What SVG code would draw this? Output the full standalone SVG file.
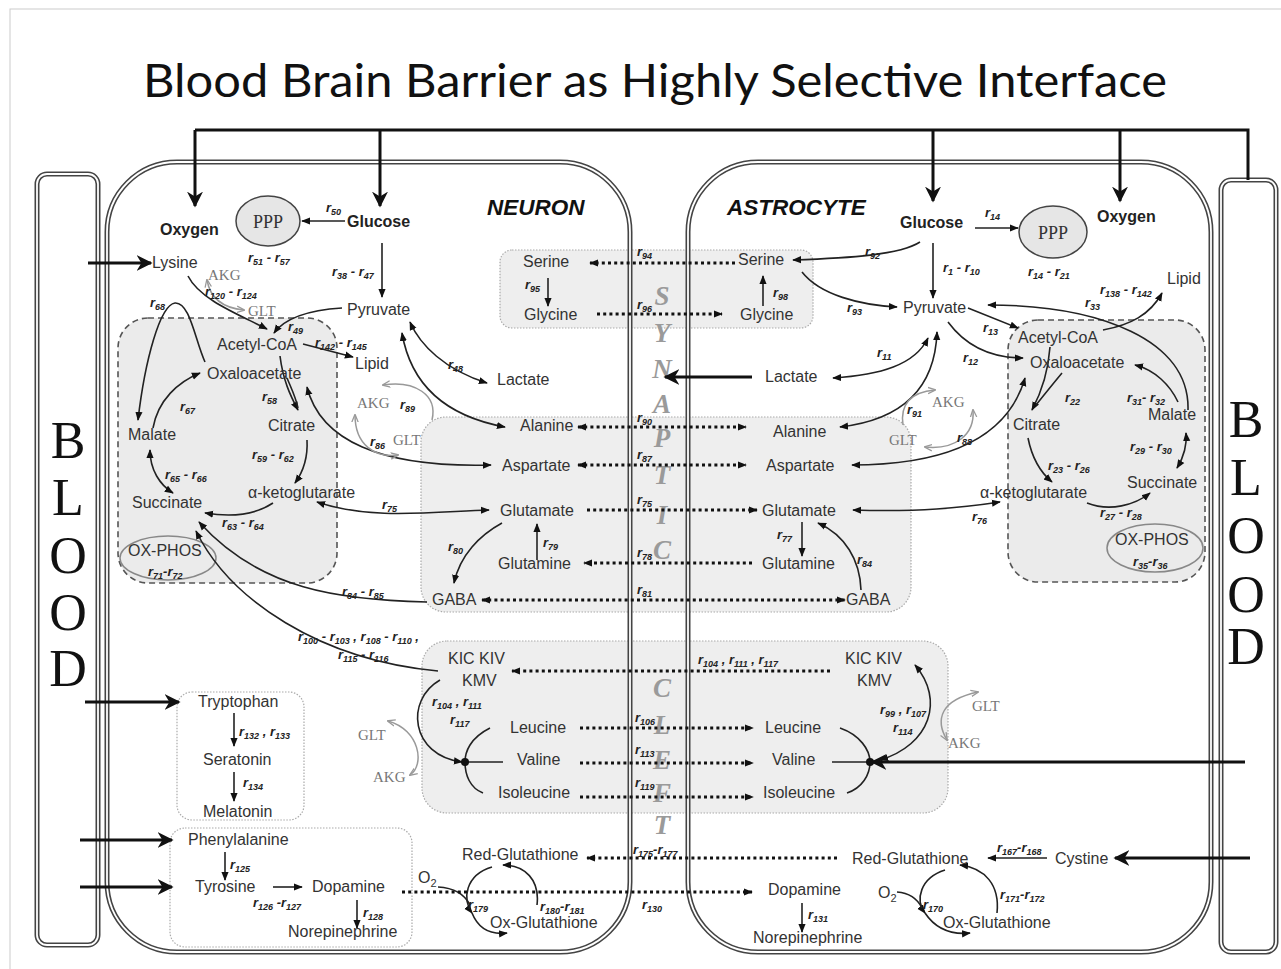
<svg xmlns="http://www.w3.org/2000/svg" width="1281" height="969" viewBox="0 0 1281 969">
<style>
.t{font-family:"Liberation Sans",Arial,sans-serif;font-size:16px;fill:#333}
.tb{font-family:"Liberation Sans",Arial,sans-serif;font-size:16px;font-weight:bold;fill:#222}
.g{font-family:"Liberation Serif","Times New Roman",serif;font-size:15px;fill:#777}
.r{font-family:"Liberation Sans",Arial,sans-serif;font-size:13px;font-weight:bold;font-style:italic;fill:#222}
.s{font-size:9px}
.sy{font-family:"Liberation Serif",serif;font-size:27px;font-weight:bold;font-style:italic;fill:#9a9a9a;text-anchor:middle}
.bl{font-family:"Liberation Serif",serif;font-size:52px;fill:#111;text-anchor:middle}
.cell{fill:none;stroke:#444;stroke-width:5}
.cellin{fill:none;stroke:#fff;stroke-width:1.8}
.c{fill:none;stroke:#222;stroke-width:1.6}
.cg{fill:none;stroke:#999;stroke-width:1.5}
.k{fill:none;stroke:#111;stroke-width:3}
.d{fill:none;stroke:#111;stroke-width:3.2;stroke-dasharray:3 3.2}
.box{fill:#eeeeee;stroke:#aaa;stroke-width:1.2;stroke-dasharray:1.5 1.5}
.tca{fill:#ebebeb;stroke:#555;stroke-width:1.6;stroke-dasharray:6 4}
</style>
<defs>
<marker id="a" viewBox="0 0 10 10" refX="9" refY="5" markerWidth="9" markerHeight="9" markerUnits="userSpaceOnUse" orient="auto-start-reverse"><path d="M0,1 L10,5 L0,9 z" fill="#111"/></marker>
<marker id="ab" viewBox="0 0 10 10" refX="9" refY="5" markerWidth="16" markerHeight="16" markerUnits="userSpaceOnUse" orient="auto-start-reverse"><path d="M0,0 L10,5 L0,10 L3,5 z" fill="#111"/></marker>
<marker id="ag" viewBox="0 0 10 10" refX="9" refY="5" markerWidth="8" markerHeight="8" markerUnits="userSpaceOnUse" orient="auto-start-reverse"><path d="M0,1 L10,5 L0,9" fill="none" stroke="#999" stroke-width="1.6"/></marker>
</defs>
<rect x="0" y="0" width="1281" height="969" fill="#fff"/>
<rect x="10" y="9" width="1300" height="1000" fill="none" stroke="#ccc" stroke-width="1"/>
<text x="143" y="97" font-family="Lato,'Open Sans',sans-serif" font-size="46" textLength="1024" lengthAdjust="spacingAndGlyphs" fill="#111">Blood Brain Barrier as Highly Selective Interface</text>

<g id="boxes">
<rect class="tca" x="118" y="318" width="219" height="265" rx="30"/>
<rect class="tca" x="1008" y="320" width="197" height="262" rx="30"/>
<rect class="box" x="500" y="250" width="313" height="78" rx="12"/>
<rect class="box" x="421" y="417" width="490" height="195" rx="25"/>
<rect class="box" x="422" y="641" width="526" height="172" rx="25"/>
<rect class="box" x="177" y="692" width="127" height="128" rx="15" style="fill:#fff"/>
<rect class="box" x="170" y="828" width="242" height="119" rx="15" style="fill:#fff"/>
<ellipse cx="268" cy="221" rx="32" ry="25" fill="#e6e6e6" stroke="#444" stroke-width="1.5"/>
<ellipse cx="1053" cy="232" rx="34" ry="26" fill="#e6e6e6" stroke="#444" stroke-width="1.5"/>
<ellipse cx="168" cy="558" rx="48" ry="22" fill="none" stroke="#888" stroke-width="1.5"/>
<ellipse cx="1155" cy="548" rx="48" ry="24" fill="none" stroke="#888" stroke-width="1.5"/>
</g>

<g id="blood-left">
<rect class="cell" x="37" y="174" width="61" height="771" rx="10"/>
<rect class="cellin" x="37" y="174" width="61" height="771" rx="10"/>
<text class="bl" x="68" y="458">B</text><text class="bl" x="68" y="515">L</text><text class="bl" x="68" y="573">O</text><text class="bl" x="68" y="630">O</text><text class="bl" x="68" y="686">D</text>
</g>
<g id="blood-right">
<rect class="cell" x="1221" y="180" width="55" height="772" rx="10"/>
<rect class="cellin" x="1221" y="180" width="55" height="772" rx="10"/>
<text class="bl" x="1246" y="437">B</text><text class="bl" x="1246" y="495">L</text><text class="bl" x="1246" y="553">O</text><text class="bl" x="1246" y="612">O</text><text class="bl" x="1246" y="664">D</text>
</g>
<g id="neuron">
<rect class="cell" x="107" y="162" width="523" height="790" rx="70"/>
<rect class="cellin" x="107" y="162" width="523" height="790" rx="70"/>
<text x="487" y="215" font-family="'Liberation Sans',sans-serif" font-size="22.5" font-weight="bold" font-style="italic" fill="#111">NEURON</text>
</g>
<g id="astrocyte">
<rect class="cell" x="688" y="162" width="523" height="790" rx="70"/>
<rect class="cellin" x="688" y="162" width="523" height="790" rx="70"/>
<text x="727" y="215" font-family="'Liberation Sans',sans-serif" font-size="22.5" font-weight="bold" font-style="italic" fill="#111">ASTROCYTE</text>
</g>
<g id="cleft">
<text class="sy" x="662" y="305">S</text><text class="sy" x="662" y="342">Y</text><text class="sy" x="662" y="378">N</text><text class="sy" x="662" y="413">A</text><text class="sy" x="662" y="447">P</text><text class="sy" x="662" y="484">T</text><text class="sy" x="662" y="524">I</text><text class="sy" x="662" y="559">C</text><text class="sy" x="662" y="697">C</text><text class="sy" x="662" y="734">L</text><text class="sy" x="662" y="769">E</text><text class="sy" x="662" y="802">F</text><text class="sy" x="662" y="834">T</text>
</g>

<g id="connectors">
<path class="k" d="M195,130 H1248 V180"/>
<path class="k" d="M195,130 V206" marker-end="url(#ab)"/>
<path class="k" d="M380,130 V206" marker-end="url(#ab)"/>
<path class="k" d="M933,130 V201" marker-end="url(#ab)"/>
<path class="k" d="M1120,130 V201" marker-end="url(#ab)"/>
<path class="k" d="M88,263 H151" marker-end="url(#ab)"/>
<path class="k" d="M85,702 H179" marker-end="url(#ab)"/>
<path class="k" d="M80,840 H172" marker-end="url(#ab)"/>
<path class="k" d="M80,887 H172" marker-end="url(#ab)"/>
<path class="k" d="M1245,762 H872" marker-end="url(#ab)"/>
<path class="k" d="M1250,858 H1115" marker-end="url(#ab)"/>
<path class="k" d="M752,377 H665" marker-end="url(#ab)"/>

<path class="c" d="M345,221 H302" marker-end="url(#a)"/>
<path class="c" d="M382,243 V297" marker-end="url(#a)"/>
<path class="c" d="M342,308 C310,310 285,318 274,333" marker-end="url(#a)"/>
<path class="c" d="M188,276 C200,300 240,315 267,329" marker-end="url(#a)"/>
<path class="cg" d="M244,310 C222,308 210,297 207,280" marker-start="url(#ag)" marker-end="url(#ag)"/>
<path class="c" d="M303,344 L353,357" marker-end="url(#a)"/>
<path class="c" d="M280,356 C283,380 290,395 298,410" marker-end="url(#a)"/>
<path class="c" d="M287,378 C292,390 296,398 298,408"/>
<path class="c" d="M307,440 C308,458 303,472 295,483" marker-end="url(#a)"/>
<path class="c" d="M273,503 C255,515 230,517 205,513" marker-end="url(#a)"/>
<path class="c" d="M150,450 C150,470 160,485 173,493" marker-start="url(#a)" marker-end="url(#a)"/>
<path class="c" d="M153,428 C158,400 178,382 200,373" marker-end="url(#a)"/>
<path class="c" d="M205,362 C195,340 190,302 175,303 C160,305 145,360 138,420" marker-end="url(#a)"/>
<path class="c" d="M307,387 C320,440 380,468 491,465" marker-start="url(#a)" marker-end="url(#a)"/>
<path class="c" d="M317,502 C370,520 430,512 489,510" marker-start="url(#a)" marker-end="url(#a)"/>
<path class="c" d="M410,322 C420,345 445,370 487,383" marker-start="url(#a)" marker-end="url(#a)"/>
<path class="c" d="M402,333 C410,380 440,415 505,427" marker-start="url(#a)" marker-end="url(#a)"/>
<path class="c" d="M427,602 C340,600 260,590 199,522" marker-end="url(#a)"/>
<path class="c" d="M438,671 C320,660 230,600 196,531" marker-end="url(#a)"/>
<path class="c" d="M502,523 C480,535 460,555 454,583" marker-end="url(#a)"/>
<path class="c" d="M537,560 V524" marker-end="url(#a)"/>
<path class="c" d="M548,278 V306" marker-end="url(#a)"/>
<path class="c" d="M440,680 C405,700 410,755 462,762" marker-end="url(#a)"/>
<path class="c" d="M490,728 C470,738 465,752 465,762 C465,775 470,788 483,793 M465,762 H503"/>
<circle cx="465" cy="762" r="4" fill="#111"/>
<path class="cg" d="M388,721 C420,730 425,765 410,775" marker-start="url(#ag)" marker-end="url(#ag)"/>
<path class="cg" d="M432,420 C438,395 415,380 383,385" marker-end="url(#ag)"/>
<path class="cg" d="M355,415 C355,445 375,458 398,455" marker-start="url(#ag)" marker-end="url(#ag)"/>
<path class="c" d="M234,713 V746" marker-end="url(#a)"/>
<path class="c" d="M234,772 V801" marker-end="url(#a)"/>
<path class="c" d="M225,852 V880" marker-end="url(#a)"/>
<path class="c" d="M273,887 H302" marker-end="url(#a)"/>
<path class="c" d="M357,900 V928" marker-end="url(#a)"/>
<path class="c" d="M492,867 C465,875 462,900 472,913" marker-end="url(#a)"/>
<path class="c" d="M472,913 C478,928 490,935 507,933" marker-end="url(#a)"/>
<path class="c" d="M438,887 C455,888 465,895 470,905"/>
<path class="c" d="M537,905 C540,880 525,865 503,865" marker-end="url(#a)"/>

<path class="c" d="M975,228 H1018" marker-end="url(#a)"/>
<path class="c" d="M933,243 V298" marker-end="url(#a)"/>
<path class="c" d="M920,242 C900,255 850,258 793,260" marker-end="url(#a)"/>
<path class="c" d="M802,272 C820,295 860,305 897,307" marker-end="url(#a)"/>
<path class="c" d="M763,306 V276" marker-end="url(#a)"/>
<path class="c" d="M833,378 C880,375 915,365 928,338" marker-start="url(#a)" marker-end="url(#a)"/>
<path class="c" d="M840,427 C900,420 935,390 937,332" marker-start="url(#a)" marker-end="url(#a)"/>
<path class="c" d="M948,322 C965,345 990,358 1023,358" marker-end="url(#a)"/>
<path class="c" d="M968,308 L1018,328" marker-end="url(#a)"/>
<path class="c" d="M1103,330 C1130,325 1150,315 1162,293" marker-end="url(#a)"/>
<path class="c" d="M1188,410 C1190,340 1100,305 988,305" marker-end="url(#a)"/>
<path class="c" d="M1178,402 C1170,385 1155,370 1135,365" marker-end="url(#a)"/>
<path class="c" d="M1050,347 C1048,375 1040,395 1032,410" marker-end="url(#a)"/>
<path class="c" d="M1062,373 C1052,385 1044,395 1036,405"/>
<path class="c" d="M852,465 C960,465 1010,430 1025,378" marker-start="url(#a)" marker-end="url(#a)"/>
<path class="c" d="M853,510 C920,512 960,508 1000,502" marker-start="url(#a)" marker-end="url(#a)"/>
<path class="c" d="M1028,438 C1032,458 1040,472 1052,482" marker-end="url(#a)"/>
<path class="c" d="M1087,503 C1110,512 1135,505 1150,493" marker-end="url(#a)"/>
<path class="c" d="M1177,468 C1185,455 1187,445 1186,433" marker-start="url(#a)" marker-end="url(#a)"/>
<path class="c" d="M802,522 V556" marker-end="url(#a)"/>
<path class="c" d="M861,590 C860,560 845,535 818,523" marker-end="url(#a)"/>
<path class="cg" d="M903,425 C900,405 910,392 935,390" marker-end="url(#ag)"/>
<path class="cg" d="M925,447 C955,450 975,435 973,410" marker-start="url(#ag)" marker-end="url(#ag)"/>
<path class="c" d="M840,728 C860,735 870,750 870,762 C870,775 862,788 847,793 M832,762 H870"/>
<circle cx="870" cy="762" r="4" fill="#111"/>
<path class="c" d="M880,760 C930,745 945,700 915,665" marker-start="url(#a)" marker-end="url(#a)"/>
<path class="cg" d="M947,740 C935,720 940,700 978,692" marker-start="url(#ag)" marker-end="url(#ag)"/>
<path class="c" d="M1047,858 H988" marker-end="url(#a)"/>
<path class="c" d="M945,870 C920,878 915,900 925,913" marker-end="url(#a)"/>
<path class="c" d="M925,913 C935,928 950,935 970,933" marker-end="url(#a)"/>
<path class="c" d="M897,892 C910,893 918,900 922,908"/>
<path class="c" d="M997,913 C1000,885 985,868 960,865" marker-end="url(#a)"/>
<path class="c" d="M802,903 V932" marker-end="url(#a)"/>

<path class="d" d="M735,263 H590" marker-end="url(#a)"/>
<path class="d" d="M597,314 H722" marker-end="url(#a)"/>
<path class="d" d="M578,427 H746" marker-start="url(#a)" marker-end="url(#a)"/>
<path class="d" d="M578,465 H746" marker-start="url(#a)" marker-end="url(#a)"/>
<path class="d" d="M587,510 H757" marker-end="url(#a)"/>
<path class="d" d="M752,563 H584" marker-end="url(#a)"/>
<path class="d" d="M482,600 H845" marker-start="url(#a)" marker-end="url(#a)"/>
<path class="d" d="M830,671 H512" marker-end="url(#a)"/>
<path class="d" d="M580,728 H753" marker-end="url(#a)"/>
<path class="d" d="M580,763 H753" marker-end="url(#a)"/>
<path class="d" d="M580,797 H753" marker-end="url(#a)"/>
<path class="d" d="M837,858 H587" marker-end="url(#a)"/>
<path class="d" d="M402,892 H752" marker-end="url(#a)"/>
</g>

<g id="neuron-nodes">
<g id="n-oxygen"><text class="tb" x="160" y="235">Oxygen</text></g>
<g id="n-ppp"><text x="268" y="228" font-family="'Liberation Serif',serif" font-size="18" fill="#333" text-anchor="middle">PPP</text></g>
<g id="n-glucose"><text class="tb" x="347" y="227">Glucose</text></g>
<g id="n-lysine"><text class="t" x="152" y="268">Lysine</text></g>
<g id="n-pyruvate"><text class="t" x="347" y="315">Pyruvate</text></g>
<g id="n-acetylcoa"><text class="t" x="217" y="350">Acetyl-CoA</text></g>
<g id="n-lipid"><text class="t" x="355" y="369">Lipid</text></g>
<g id="n-oaa"><text class="t" x="207" y="379">Oxaloacetate</text></g>
<g id="n-lactate"><text class="t" x="497" y="385">Lactate</text></g>
<g id="n-citrate"><text class="t" x="268" y="431">Citrate</text></g>
<g id="n-malate"><text class="t" x="128" y="440">Malate</text></g>
<g id="n-akg"><text class="t" x="248" y="498">α-ketoglutarate</text></g>
<g id="n-succinate"><text class="t" x="132" y="508">Succinate</text></g>
<g id="n-oxphos"><text class="t" x="128" y="556">OX-PHOS</text></g>
<g id="n-serine"><text class="t" x="523" y="267">Serine</text></g>
<g id="n-glycine"><text class="t" x="524" y="320">Glycine</text></g>
<g id="n-alanine"><text class="t" x="520" y="431">Alanine</text></g>
<g id="n-aspartate"><text class="t" x="502" y="471">Aspartate</text></g>
<g id="n-glutamate"><text class="t" x="500" y="516">Glutamate</text></g>
<g id="n-glutamine"><text class="t" x="498" y="569">Glutamine</text></g>
<g id="n-gaba"><text class="t" x="432" y="605">GABA</text></g>
<g id="n-kic"><text class="t" x="448" y="664">KIC KIV</text><text class="t" x="462" y="686">KMV</text></g>
<g id="n-leucine"><text class="t" x="510" y="733">Leucine</text></g>
<g id="n-valine"><text class="t" x="517" y="765">Valine</text></g>
<g id="n-isoleucine"><text class="t" x="498" y="798">Isoleucine</text></g>
<g id="n-tryptophan"><text class="t" x="198" y="707">Tryptophan</text></g>
<g id="n-seratonin"><text class="t" x="203" y="765">Seratonin</text></g>
<g id="n-melatonin"><text class="t" x="203" y="817">Melatonin</text></g>
<g id="n-phe"><text class="t" x="188" y="845">Phenylalanine</text></g>
<g id="n-tyrosine"><text class="t" x="195" y="892">Tyrosine</text></g>
<g id="n-dopamine"><text class="t" x="312" y="892">Dopamine</text></g>
<g id="n-ne"><text class="t" x="288" y="937">Norepinephrine</text></g>
<g id="n-redglut"><text class="t" x="462" y="860">Red-Glutathione</text></g>
<g id="n-oxglut"><text class="t" x="490" y="928">Ox-Glutathione</text></g>
<g id="n-o2"><text class="t" x="418" y="883">O<tspan font-size="11" dy="4">2</tspan></text></g>
<text class="g" x="208" y="280">AKG</text>
<text class="g" x="248" y="316">GLT</text>
<text class="g" x="357" y="408">AKG</text>
<text class="g" x="393" y="445">GLT</text>
<text class="g" x="358" y="740">GLT</text>
<text class="g" x="373" y="782">AKG</text>
</g>

<g id="astro-nodes">
<g id="a-glucose"><text class="tb" x="900" y="228">Glucose</text></g>
<g id="a-ppp"><text x="1053" y="239" font-family="'Liberation Serif',serif" font-size="18" fill="#333" text-anchor="middle">PPP</text></g>
<g id="a-oxygen"><text class="tb" x="1097" y="222">Oxygen</text></g>
<g id="a-serine"><text class="t" x="738" y="265">Serine</text></g>
<g id="a-glycine"><text class="t" x="740" y="320">Glycine</text></g>
<g id="a-pyruvate"><text class="t" x="903" y="313">Pyruvate</text></g>
<g id="a-lactate"><text class="t" x="765" y="382">Lactate</text></g>
<g id="a-acetylcoa"><text class="t" x="1018" y="343">Acetyl-CoA</text></g>
<g id="a-lipid"><text class="t" x="1167" y="284">Lipid</text></g>
<g id="a-oaa"><text class="t" x="1030" y="368">Oxaloacetate</text></g>
<g id="a-malate"><text class="t" x="1148" y="420">Malate</text></g>
<g id="a-citrate"><text class="t" x="1013" y="430">Citrate</text></g>
<g id="a-alanine"><text class="t" x="773" y="437">Alanine</text></g>
<g id="a-aspartate"><text class="t" x="766" y="471">Aspartate</text></g>
<g id="a-akg"><text class="t" x="980" y="498">α-ketoglutarate</text></g>
<g id="a-succinate"><text class="t" x="1127" y="488">Succinate</text></g>
<g id="a-glutamate"><text class="t" x="762" y="516">Glutamate</text></g>
<g id="a-oxphos"><text class="t" x="1115" y="545">OX-PHOS</text></g>
<g id="a-glutamine"><text class="t" x="762" y="569">Glutamine</text></g>
<g id="a-gaba"><text class="t" x="846" y="605">GABA</text></g>
<g id="a-kic"><text class="t" x="845" y="664">KIC KIV</text><text class="t" x="857" y="686">KMV</text></g>
<g id="a-leucine"><text class="t" x="765" y="733">Leucine</text></g>
<g id="a-valine"><text class="t" x="772" y="765">Valine</text></g>
<g id="a-isoleucine"><text class="t" x="763" y="798">Isoleucine</text></g>
<g id="a-redglut"><text class="t" x="852" y="864">Red-Glutathione</text></g>
<g id="a-cystine"><text class="t" x="1055" y="864">Cystine</text></g>
<g id="a-dopamine"><text class="t" x="768" y="895">Dopamine</text></g>
<g id="a-ne"><text class="t" x="753" y="943">Norepinephrine</text></g>
<g id="a-oxglut"><text class="t" x="943" y="928">Ox-Glutathione</text></g>
<g id="a-o2"><text class="t" x="878" y="898">O<tspan font-size="11" dy="4">2</tspan></text></g>
<text class="g" x="932" y="407">AKG</text>
<text class="g" x="889" y="445">GLT</text>
<text class="g" x="972" y="711">GLT</text>
<text class="g" x="948" y="748">AKG</text>
</g>

<g id="reaction-labels">
<text class="r" x="326" y="212">r<tspan class="s" dy="3">50</tspan></text>
<text class="r" x="248" y="262">r<tspan class="s" dy="3">51</tspan><tspan dy="-3"> - r</tspan><tspan class="s" dy="3">57</tspan></text>
<text class="r" x="332" y="276">r<tspan class="s" dy="3">38</tspan><tspan dy="-3"> - r</tspan><tspan class="s" dy="3">47</tspan></text>
<text class="r" x="205" y="296">r<tspan class="s" dy="3">120</tspan><tspan dy="-3"> - r</tspan><tspan class="s" dy="3">124</tspan></text>
<text class="r" x="150" y="307">r<tspan class="s" dy="3">68</tspan></text>
<text class="r" x="288" y="331">r<tspan class="s" dy="3">49</tspan></text>
<text class="r" x="315" y="347">r<tspan class="s" dy="3">142</tspan><tspan dy="-3"> - r</tspan><tspan class="s" dy="3">145</tspan></text>
<text class="r" x="448" y="369">r<tspan class="s" dy="3">48</tspan></text>
<text class="r" x="262" y="401">r<tspan class="s" dy="3">58</tspan></text>
<text class="r" x="180" y="411">r<tspan class="s" dy="3">67</tspan></text>
<text class="r" x="400" y="409">r<tspan class="s" dy="3">89</tspan></text>
<text class="r" x="370" y="446">r<tspan class="s" dy="3">86</tspan></text>
<text class="r" x="252" y="459">r<tspan class="s" dy="3">59</tspan><tspan dy="-3"> - r</tspan><tspan class="s" dy="3">62</tspan></text>
<text class="r" x="165" y="479">r<tspan class="s" dy="3">65</tspan><tspan dy="-3"> - r</tspan><tspan class="s" dy="3">66</tspan></text>
<text class="r" x="382" y="509">r<tspan class="s" dy="3">75</tspan></text>
<text class="r" x="222" y="527">r<tspan class="s" dy="3">63</tspan><tspan dy="-3"> - r</tspan><tspan class="s" dy="3">64</tspan></text>
<text class="r" x="148" y="576">r<tspan class="s" dy="3">71</tspan><tspan dy="-3">-r</tspan><tspan class="s" dy="3">72</tspan></text>
<text class="r" x="342" y="596">r<tspan class="s" dy="3">84</tspan><tspan dy="-3"> - r</tspan><tspan class="s" dy="3">85</tspan></text>
<text class="r" x="448" y="551">r<tspan class="s" dy="3">80</tspan></text>
<text class="r" x="543" y="547">r<tspan class="s" dy="3">79</tspan></text>
<text class="r" x="298" y="641">r<tspan class="s" dy="3">100</tspan><tspan dy="-3"> - r</tspan><tspan class="s" dy="3">103</tspan><tspan dy="-3"> , r</tspan><tspan class="s" dy="3">108</tspan><tspan dy="-3"> - r</tspan><tspan class="s" dy="3">110</tspan><tspan dy="-3"> ,</tspan></text>
<text class="r" x="338" y="659">r<tspan class="s" dy="3">115</tspan><tspan dy="-3"> - r</tspan><tspan class="s" dy="3">116</tspan></text>
<text class="r" x="432" y="706">r<tspan class="s" dy="3">104</tspan><tspan dy="-3"> , r</tspan><tspan class="s" dy="3">111</tspan></text>
<text class="r" x="450" y="724">r<tspan class="s" dy="3">117</tspan></text>
<text class="r" x="239" y="736">r<tspan class="s" dy="3">132</tspan><tspan dy="-3"> , r</tspan><tspan class="s" dy="3">133</tspan></text>
<text class="r" x="243" y="787">r<tspan class="s" dy="3">134</tspan></text>
<text class="r" x="230" y="869">r<tspan class="s" dy="3">125</tspan></text>
<text class="r" x="253" y="907">r<tspan class="s" dy="3">126</tspan><tspan dy="-3"> -r</tspan><tspan class="s" dy="3">127</tspan></text>
<text class="r" x="363" y="917">r<tspan class="s" dy="3">128</tspan></text>
<text class="r" x="468" y="909">r<tspan class="s" dy="3">179</tspan></text>
<text class="r" x="540" y="911">r<tspan class="s" dy="3">180</tspan><tspan dy="-3">-r</tspan><tspan class="s" dy="3">181</tspan></text>
<text class="r" x="642" y="909">r<tspan class="s" dy="3">130</tspan></text>
<text class="r" x="637" y="256">r<tspan class="s" dy="3">94</tspan></text>
<text class="r" x="637" y="309">r<tspan class="s" dy="3">96</tspan></text>
<text class="r" x="525" y="289">r<tspan class="s" dy="3">95</tspan></text>
<text class="r" x="637" y="422">r<tspan class="s" dy="3">90</tspan></text>
<text class="r" x="637" y="459">r<tspan class="s" dy="3">87</tspan></text>
<text class="r" x="637" y="504">r<tspan class="s" dy="3">75</tspan></text>
<text class="r" x="637" y="557">r<tspan class="s" dy="3">78</tspan></text>
<text class="r" x="637" y="594">r<tspan class="s" dy="3">81</tspan></text>
<text class="r" x="698" y="664">r<tspan class="s" dy="3">104</tspan><tspan dy="-3"> , r</tspan><tspan class="s" dy="3">111</tspan><tspan dy="-3"> , r</tspan><tspan class="s" dy="3">117</tspan></text>
<text class="r" x="635" y="722">r<tspan class="s" dy="3">106</tspan></text>
<text class="r" x="635" y="754">r<tspan class="s" dy="3">113</tspan></text>
<text class="r" x="635" y="787">r<tspan class="s" dy="3">119</tspan></text>
<text class="r" x="633" y="854">r<tspan class="s" dy="3">175</tspan><tspan dy="-3">-r</tspan><tspan class="s" dy="3">177</tspan></text>
<text class="r" x="773" y="297">r<tspan class="s" dy="3">98</tspan></text>
<text class="r" x="865" y="256">r<tspan class="s" dy="3">92</tspan></text>
<text class="r" x="985" y="217">r<tspan class="s" dy="3">14</tspan></text>
<text class="r" x="943" y="272">r<tspan class="s" dy="3">1</tspan><tspan dy="-3"> - r</tspan><tspan class="s" dy="3">10</tspan></text>
<text class="r" x="1028" y="276">r<tspan class="s" dy="3">14</tspan><tspan dy="-3"> - r</tspan><tspan class="s" dy="3">21</tspan></text>
<text class="r" x="847" y="312">r<tspan class="s" dy="3">93</tspan></text>
<text class="r" x="1100" y="294">r<tspan class="s" dy="3">138</tspan><tspan dy="-3"> - r</tspan><tspan class="s" dy="3">142</tspan></text>
<text class="r" x="1085" y="307">r<tspan class="s" dy="3">33</tspan></text>
<text class="r" x="983" y="332">r<tspan class="s" dy="3">13</tspan></text>
<text class="r" x="963" y="362">r<tspan class="s" dy="3">12</tspan></text>
<text class="r" x="877" y="357">r<tspan class="s" dy="3">11</tspan></text>
<text class="r" x="907" y="414">r<tspan class="s" dy="3">91</tspan></text>
<text class="r" x="1065" y="402">r<tspan class="s" dy="3">22</tspan></text>
<text class="r" x="1127" y="402">r<tspan class="s" dy="3">31</tspan><tspan dy="-3">- r</tspan><tspan class="s" dy="3">32</tspan></text>
<text class="r" x="957" y="442">r<tspan class="s" dy="3">88</tspan></text>
<text class="r" x="1130" y="451">r<tspan class="s" dy="3">29</tspan><tspan dy="-3"> - r</tspan><tspan class="s" dy="3">30</tspan></text>
<text class="r" x="1048" y="470">r<tspan class="s" dy="3">23</tspan><tspan dy="-3"> - r</tspan><tspan class="s" dy="3">26</tspan></text>
<text class="r" x="972" y="521">r<tspan class="s" dy="3">76</tspan></text>
<text class="r" x="1100" y="517">r<tspan class="s" dy="3">27</tspan><tspan dy="-3"> - r</tspan><tspan class="s" dy="3">28</tspan></text>
<text class="r" x="777" y="539">r<tspan class="s" dy="3">77</tspan></text>
<text class="r" x="857" y="564">r<tspan class="s" dy="3">84</tspan></text>
<text class="r" x="1133" y="566">r<tspan class="s" dy="3">35</tspan><tspan dy="-3">-r</tspan><tspan class="s" dy="3">36</tspan></text>
<text class="r" x="880" y="714">r<tspan class="s" dy="3">99</tspan><tspan dy="-3"> , r</tspan><tspan class="s" dy="3">107</tspan></text>
<text class="r" x="893" y="732">r<tspan class="s" dy="3">114</tspan></text>
<text class="r" x="997" y="852">r<tspan class="s" dy="3">167</tspan><tspan dy="-3">-r</tspan><tspan class="s" dy="3">168</tspan></text>
<text class="r" x="1000" y="899">r<tspan class="s" dy="3">171</tspan><tspan dy="-3">-r</tspan><tspan class="s" dy="3">172</tspan></text>
<text class="r" x="923" y="909">r<tspan class="s" dy="3">170</tspan></text>
<text class="r" x="808" y="919">r<tspan class="s" dy="3">131</tspan></text>
</g>
</svg>
